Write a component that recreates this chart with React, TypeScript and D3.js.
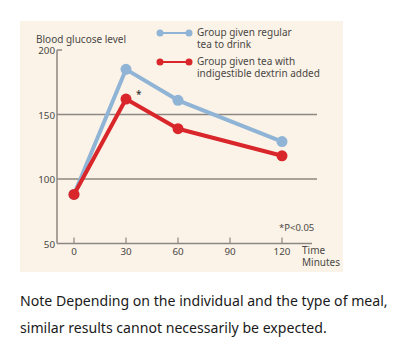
import React from 'react';
import * as d3 from 'd3';

const minutes = [0, 30, 60, 120];
const regularTea = [88, 185, 161, 129];
const dextrinTea = [88, 162, 139, 118];
const xTicks = [0, 30, 60, 90, 120];
const yTicks = [50, 100, 150, 200];
const gridValues = [100, 150];

const W = 400;
const H = 358;
const BLUE = '#90b4d6';
const RED = '#d9262a';
const AXIS = '#8c8782';
const TEXT = '#4a4745';
const FONT = '"Noto Sans", sans-serif';

function App() {
  const x = d3.scaleLinear().domain([0, 120]).range([74, 282]);
  const y = d3.scaleLinear().domain([50, 200]).range([243.5, 50]);

  const line = d3
    .line<number>()
    .x((_, i) => x(minutes[i]))
    .y((d) => y(d));

  const series = [
    { values: regularTea, color: BLUE },
    { values: dextrinTea, color: RED },
  ];

  return (
    <svg
      width={W}
      height={H}
      style={{ position: 'absolute', left: 0, top: 0, background: '#fff' }}
      xmlns="http://www.w3.org/2000/svg"
    >
      <rect x={20} y={21} width={323} height={251} fill="#fbf3e8" />

      {/* grid lines */}
      {gridValues.map((v) => (
        <line key={v} x1={57} x2={317} y1={y(v)} y2={y(v)} stroke={AXIS} strokeWidth={1.3} />
      ))}

      {/* axes */}
      <line x1={57} x2={57} y1={y(200)} y2={y(50)} stroke={AXIS} strokeWidth={1.5} />
      <line x1={57} x2={312} y1={y(50)} y2={y(50)} stroke={AXIS} strokeWidth={1.5} />
      <line x1={57} x2={62} y1={y(200)} y2={y(200)} stroke={AXIS} strokeWidth={1.5} />
      {xTicks.map((t) => (
        <g key={t}>
          <line x1={x(t)} x2={x(t)} y1={y(50) - 6} y2={y(50)} stroke={AXIS} strokeWidth={1.2} />
          <text x={x(t)} y={y(50) + 11} textAnchor="middle" fontSize={9.8} fill={TEXT} fontFamily={FONT}>
            {t}
          </text>
        </g>
      ))}
      {yTicks.map((t) => (
        <text key={t} x={55} y={y(t) + 4} textAnchor="end" fontSize={9.8} fill={TEXT} fontFamily={FONT}>
          {t}
        </text>
      ))}

      {/* series */}
      {series.map((s, k) => (
        <g key={k}>
          <path d={line(s.values) || ''} fill="none" stroke={s.color} strokeWidth={4} strokeLinejoin="round" />
          {s.values.map((v, i) => (
            <circle key={i} cx={x(minutes[i])} cy={y(v)} r={5.5} fill={s.color} />
          ))}
        </g>
      ))}
      <text x={136} y={98} fontSize={10} fill="#222" fontFamily={FONT}>*</text>

      {/* labels */}
      <text x={36} y={42.5} fontSize={10} fill={TEXT} fontFamily={FONT}>Blood glucose level</text>
      <text x={279} y={231} fontSize={9.5} fill={TEXT} fontFamily={FONT}>*P&lt;0.05</text>
      <text x={302} y={254} fontSize={10} fill={TEXT} fontFamily={FONT}>Time</text>
      <text x={302} y={265.5} fontSize={10} fill={TEXT} fontFamily={FONT}>Minutes</text>

      {/* legend */}
      <line x1={159} x2={189} y1={33} y2={33} stroke={BLUE} strokeWidth={2} />
      <circle cx={160} cy={33} r={3.5} fill={BLUE} />
      <circle cx={189} cy={33} r={3.5} fill={BLUE} />
      <text x={197} y={36} fontSize={10} fill={TEXT} fontFamily={FONT}>Group given regular</text>
      <text x={197} y={47.5} fontSize={10} fill={TEXT} fontFamily={FONT}>tea to drink</text>
      <line x1={159} x2={189} y1={62} y2={62} stroke={RED} strokeWidth={2} />
      <circle cx={160} cy={62} r={3.5} fill={RED} />
      <circle cx={189} cy={62} r={3.5} fill={RED} />
      <text x={197} y={65} fontSize={10} fill={TEXT} fontFamily={FONT}>Group given tea with</text>
      <text x={197} y={76.5} fontSize={10} fill={TEXT} fontFamily={FONT}>indigestible dextrin added</text>

      {/* note */}
      <text x={20} y={306} fontSize={14.1} fill="#1a1a1a" fontFamily={FONT}>
        Note Depending on the individual and the type of meal,
      </text>
      <text x={20} y={333} fontSize={14.1} fill="#1a1a1a" fontFamily={FONT}>
        similar results cannot necessarily be expected.
      </text>
    </svg>
  );
}

export default App;
